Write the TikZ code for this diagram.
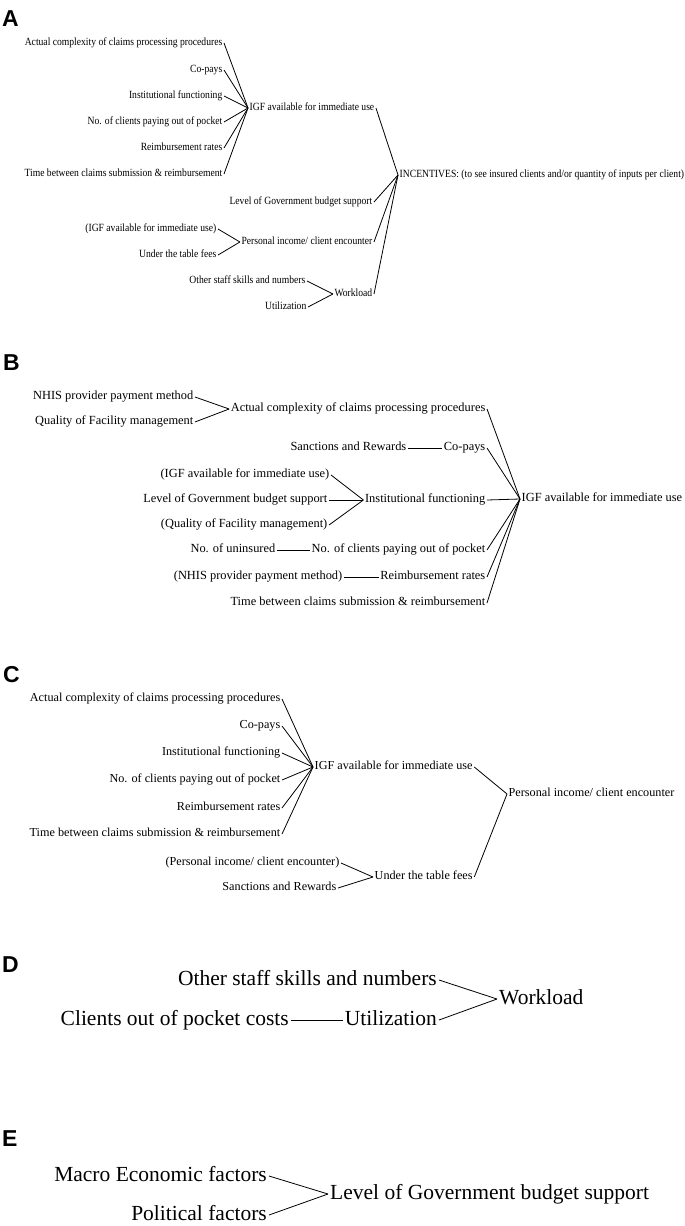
\documentclass[tikz,border=0pt]{standalone}
\usepackage{fontspec}
\setmainfont{Liberation Serif}
\newfontfamily\serifA[FakeStretch=0.875]{Liberation Serif}
\newfontfamily\labfont{Liberation Sans}
\begin{document}
\begin{tikzpicture}[x=1pt,y=-1pt,
  tA/.style={font=\serifA\fontsize{11}{13}\selectfont, inner xsep=1.5pt, inner ysep=0pt, text height=7.5pt, text depth=2.5pt},
  tB/.style={font=\fontsize{12.4}{14}\selectfont, inner xsep=1.5pt, inner ysep=0pt, text height=8.5pt, text depth=2.8pt},
  tC/.style={font=\fontsize{12.2}{14}\selectfont, inner xsep=1.5pt, inner ysep=0pt, text height=8.4pt, text depth=2.8pt},
  tD/.style={font=\fontsize{21.5}{24}\selectfont, inner xsep=2pt, inner ysep=0pt, text height=15pt, text depth=5pt},
  panel/.style={font=\labfont\bfseries\fontsize{23}{26}\selectfont, inner sep=0pt, anchor=base west},
  conn/.style={draw=black, line width=0.8pt}]
\useasboundingbox (0,0) rectangle (685,1226);

% ---------------- Panel A ----------------
\node[panel] (labA) at (2,26) {A};
\node[tA, anchor=east] (a1) at (224,43) {Actual complexity of claims processing procedures};
\node[tA, anchor=east] (a2) at (224,70) {Co-pays};
\node[tA, anchor=east] (a3) at (224,96) {Institutional functioning};
\node[tA, anchor=east] (a4) at (224,122) {No. of clients paying out of pocket};
\node[tA, anchor=east] (a5) at (224,148) {Reimbursement rates};
\node[tA, anchor=east] (a6) at (224,174) {Time between claims submission \& reimbursement};
\node[tA, anchor=west] (aIGF) at (248,108) {IGF available for immediate use};
\node[tA, anchor=east] (aLev) at (374,202) {Level of Government budget support};
\node[tA, anchor=east] (aPIGF) at (218,229) {(IGF available for immediate use)};
\node[tA, anchor=east] (aUnder) at (218,255) {Under the table fees};
\node[tA, anchor=east] (aPers) at (374,242) {Personal income/ client encounter};
\node[tA, anchor=east] (aOther) at (307,281) {Other staff skills and numbers};
\node[tA, anchor=east] (aUtil) at (308,307) {Utilization};
\node[tA, anchor=east] (aWork) at (374,294) {Workload};
\node[tA, anchor=west] (aInc) at (398,175) {INCENTIVES: (to see insured clients and/or quantity of inputs per client)};
\foreach \s in {a1,a2,a3,a4,a5,a6} \draw[conn] (\s.east) -- (aIGF.west);
\foreach \s in {aIGF,aLev,aPers,aWork} \draw[conn] (\s.east) -- (aInc.west);
\foreach \s in {aPIGF,aUnder} \draw[conn] (\s.east) -- (aPers.west);
\foreach \s in {aOther,aUtil} \draw[conn] (\s.east) -- (aWork.west);

% ---------------- Panel B ----------------
\node[panel] (labB) at (3,370) {B};
\node[tB, anchor=east] (b1) at (195,397) {NHIS provider payment method};
\node[tB, anchor=east] (b2) at (195,422) {Quality of Facility management};
\node[tB, anchor=east] (bAct) at (487,409) {Actual complexity of claims processing procedures};
\node[tB, anchor=east] (bSan) at (408,448) {Sanctions and Rewards};
\node[tB, anchor=east] (bCo) at (487,448) {Co-pays};
\node[tB, anchor=east] (bP1) at (331,475) {(IGF available for immediate use)};
\node[tB, anchor=east] (bLev) at (329,500) {Level of Government budget support};
\node[tB, anchor=east] (bP2) at (329,525) {(Quality of Facility management)};
\node[tB, anchor=east] (bInst) at (487,500) {Institutional functioning};
\node[tB, anchor=west] (bIGF) at (520,499) {IGF available for immediate use};
\node[tB, anchor=east] (bUnin) at (277,550) {No. of uninsured};
\node[tB, anchor=east] (bNo) at (487,550) {No. of clients paying out of pocket};
\node[tB, anchor=east] (bNP) at (344,577) {(NHIS provider payment method)};
\node[tB, anchor=east] (bRe) at (487,577) {Reimbursement rates};
\node[tB, anchor=east] (bTime) at (487,603) {Time between claims submission \& reimbursement};
\foreach \s in {b1,b2} \draw[conn] (\s.east) -- (bAct.west);
\draw[conn] (bSan.east) -- (bCo.west);
\foreach \s in {bP1,bLev,bP2} \draw[conn] (\s.east) -- (bInst.west);
\draw[conn] (bUnin.east) -- (bNo.west);
\draw[conn] (bNP.east) -- (bRe.west);
\foreach \s in {bAct,bCo,bInst,bNo,bRe,bTime} \draw[conn] (\s.east) -- (bIGF.west);

% ---------------- Panel C ----------------
\node[panel] (labC) at (3,682) {C};
\node[tC, anchor=east] (c1) at (282,699) {Actual complexity of claims processing procedures};
\node[tC, anchor=east] (c2) at (282,726) {Co-pays};
\node[tC, anchor=east] (c3) at (282,753) {Institutional functioning};
\node[tC, anchor=east] (c4) at (282,780) {No. of clients paying out of pocket};
\node[tC, anchor=east] (c5) at (282,808) {Reimbursement rates};
\node[tC, anchor=east] (c6) at (282,834) {Time between claims submission \& reimbursement};
\node[tC, anchor=west] (cIGF) at (313,767) {IGF available for immediate use};
\node[tC, anchor=west] (cPers) at (507,794) {Personal income/ client encounter};
\node[tC, anchor=east] (cP1) at (341,863) {(Personal income/ client encounter)};
\node[tC, anchor=east] (cSan) at (338,888) {Sanctions and Rewards};
\node[tC, anchor=west] (cUnder) at (373,877) {Under the table fees};
\foreach \s in {c1,c2,c3,c4,c5,c6} \draw[conn] (\s.east) -- (cIGF.west);
\foreach \s in {cP1,cSan} \draw[conn] (\s.east) -- (cUnder.west);
\foreach \s in {cIGF,cUnder} \draw[conn] (\s.east) -- (cPers.west);

% ---------------- Panel D ----------------
\node[panel] (labD) at (2,972) {D};
\node[tD, anchor=east] (dOther) at (439,980) {Other staff skills and numbers};
\node[tD, anchor=east] (dClients) at (291,1020) {Clients out of pocket costs};
\node[tD, anchor=east] (dUtil) at (439,1020) {Utilization};
\node[tD, anchor=west] (dWork) at (497,999) {Workload};
\draw[conn] (dClients.east) -- (dUtil.west);
\foreach \s in {dOther,dUtil} \draw[conn] (\s.east) -- (dWork.west);

% ---------------- Panel E ----------------
\node[panel] (labE) at (2,1146) {E};
\node[tD, anchor=east] (eMacro) at (269,1176) {Macro Economic factors};
\node[tD, anchor=east] (ePol) at (269,1215) {Political factors};
\node[tD, anchor=west] (eLev) at (328,1194) {Level of Government budget support};
\foreach \s in {eMacro,ePol} \draw[conn] (\s.east) -- (eLev.west);
\end{tikzpicture}
\end{document}
